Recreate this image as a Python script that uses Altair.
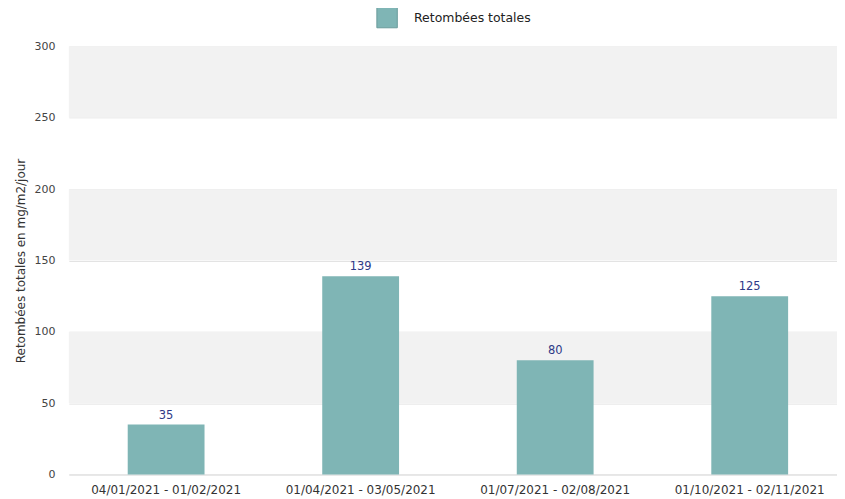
import altair as alt
import pandas as pd

periods = ["04/01/2021 - 01/02/2021", "01/04/2021 - 03/05/2021",
           "01/07/2021 - 02/08/2021", "01/10/2021 - 02/11/2021"]
values = [35, 139, 80, 125]
series = "Retombées totales"
band_low = [50, 150, 250]
band_high = [100, 200, 300]
y_ticks = [0, 50, 100, 150, 200, 250, 300]

df = pd.DataFrame({"periode": periods, "valeur": values, "serie": [series] * len(periods)})
bands = pd.DataFrame({"y": band_low, "y2": band_high})

FONT = "DejaVu Sans"

yscale = alt.Scale(domain=[0, 300], nice=False)
xscale = alt.Scale(paddingInner=0.0, paddingOuter=0.0, range=[0, 780])

band_layer = alt.Chart(bands).mark_rect(color="#f2f2f2").encode(
    y=alt.Y("y:Q", scale=yscale),
    y2="y2:Q",
    x=alt.value(0),
    x2=alt.value(790),
)

bars = alt.Chart(df).mark_bar(size=77).encode(
    x=alt.X("periode:N", sort=periods, title=None, scale=xscale,
            axis=alt.Axis(labelAngle=0, labelFont=FONT, labelFontSize=12,
                          labelColor="#333333", ticks=False, domain=True,
                          domainColor="#dddddd", labelPadding=10)),
    y=alt.Y("valeur:Q", scale=yscale, title="Retombées totales en mg/m2/jour",
            axis=alt.Axis(values=y_ticks, labelFont=FONT, labelFontSize=11,
                          labelColor="#444444", ticks=False, domain=False,
                          gridColor="#e3e3e3", labelPadding=14,
                          titleFont=FONT, titleFontSize=12, titleFontWeight="normal",
                          titleColor="#333333", titlePadding=6)),
    color=alt.Color("serie:N", scale=alt.Scale(range=["#7fb5b5"]),
                    legend=alt.Legend(title=None, orient="none", legendX=308, legendY=-40,
                                      symbolType="square", symbolSize=420,
                                      symbolStrokeColor="#6a9c9c", symbolStrokeWidth=1,
                                      labelFont=FONT, labelFontSize=12.5, labelColor="#222222",
                                      labelOffset=16)),
)

labels = alt.Chart(df).mark_text(dy=-9, font=FONT, fontSize=11.5, color="#2e3a87").encode(
    x=alt.X("periode:N", sort=periods, scale=xscale),
    y=alt.Y("valeur:Q", scale=yscale),
    text="valeur:Q",
)

chart = alt.layer(band_layer, bars, labels).properties(
    width=770, height=429,
    autosize=alt.AutoSizeParams(type="none"),
    padding={"left": 61, "top": 38, "right": 0, "bottom": 24},
).configure_view(stroke=None)

chart.save("out.html", embed_options={"renderer": "svg", "actions": False})
